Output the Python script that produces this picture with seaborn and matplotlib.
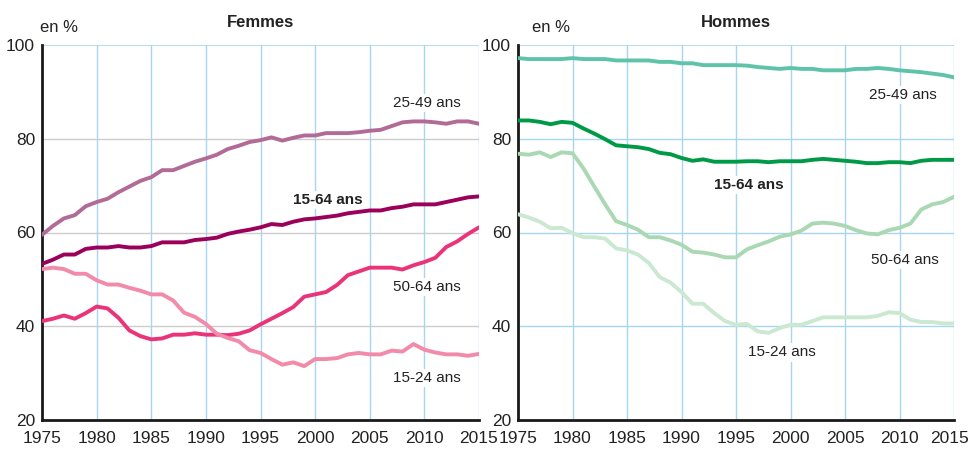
import pandas as pd
import numpy as np
import matplotlib
matplotlib.use('Agg')
import matplotlib.pyplot as plt
import matplotlib.transforms as mtransforms
import seaborn as sns

# data (taux d'activite, en %)
years = list(range(1975, 2016))

f_25_49 = [59.5, 61.4, 63.0, 63.7, 65.6, 66.5, 67.2, 68.6, 69.8, 71.0,
           71.8, 73.3, 73.3, 74.2, 75.1, 75.8, 76.6, 77.8, 78.5, 79.3,
           79.7, 80.3, 79.6, 80.2, 80.7, 80.7, 81.2, 81.2, 81.2, 81.4,
           81.7, 81.9, 82.7, 83.5, 83.7, 83.7, 83.5, 83.2, 83.7, 83.7, 83.2]
f_15_64 = [53.3, 54.2, 55.3, 55.3, 56.5, 56.8, 56.8, 57.1, 56.8, 56.8,
           57.1, 57.9, 57.9, 57.9, 58.4, 58.6, 58.9, 59.7, 60.2, 60.6,
           61.1, 61.8, 61.6, 62.3, 62.8, 63.0, 63.3, 63.6, 64.1, 64.4,
           64.7, 64.7, 65.2, 65.5, 66.0, 66.0, 66.0, 66.5, 67.0, 67.5, 67.7]
f_50_64 = [41.1, 41.6, 42.3, 41.6, 42.8, 44.2, 43.8, 41.8, 39.1, 37.9,
           37.2, 37.4, 38.2, 38.2, 38.5, 38.2, 38.2, 38.1, 38.4, 39.1,
           40.4, 41.6, 42.8, 44.1, 46.3, 46.8, 47.3, 48.8, 50.9, 51.7,
           52.5, 52.5, 52.5, 52.1, 53.0, 53.7, 54.6, 56.9, 58.1, 59.7, 61.1]
f_15_24 = [52.2, 52.5, 52.2, 51.2, 51.2, 49.8, 48.9, 48.9, 48.2, 47.6,
           46.8, 46.8, 45.5, 42.9, 42.0, 40.5, 38.4, 37.5, 36.8, 34.9,
           34.3, 33.0, 31.8, 32.3, 31.5, 33.0, 33.0, 33.2, 34.0, 34.3,
           34.0, 34.0, 34.8, 34.6, 36.2, 35.0, 34.4, 34.0, 34.0, 33.7, 34.1]

h_25_49 = [97.2, 97.0, 97.0, 97.0, 97.0, 97.2, 97.0, 97.0, 97.0, 96.7,
           96.7, 96.7, 96.7, 96.4, 96.4, 96.1, 96.1, 95.7, 95.7, 95.7,
           95.7, 95.6, 95.3, 95.1, 94.9, 95.1, 94.9, 94.9, 94.6, 94.6,
           94.6, 94.9, 94.9, 95.1, 94.9, 94.6, 94.4, 94.2, 93.9, 93.6, 93.1]
h_15_64 = [83.9, 83.9, 83.6, 83.1, 83.6, 83.4, 82.2, 81.1, 79.9, 78.6,
           78.4, 78.2, 77.8, 77.0, 76.7, 75.9, 75.3, 75.6, 75.1, 75.1,
           75.1, 75.2, 75.2, 75.0, 75.2, 75.2, 75.2, 75.5, 75.7, 75.5,
           75.3, 75.1, 74.8, 74.8, 75.0, 75.0, 74.8, 75.3, 75.5, 75.5, 75.5]
h_50_64 = [76.8, 76.6, 77.1, 76.1, 77.1, 76.9, 73.7, 69.8, 66.0, 62.4,
           61.6, 60.6, 59.0, 59.0, 58.3, 57.4, 55.9, 55.7, 55.3, 54.7,
           54.7, 56.4, 57.3, 58.1, 59.1, 59.6, 60.4, 61.9, 62.1, 61.9,
           61.4, 60.5, 59.8, 59.6, 60.5, 61.0, 61.9, 64.9, 66.0, 66.5, 67.6]
h_15_24 = [63.9, 63.2, 62.3, 60.9, 61.0, 59.9, 59.0, 59.0, 58.7, 56.6,
           56.2, 55.3, 53.5, 50.5, 49.3, 47.3, 44.8, 44.8, 42.8, 41.1,
           40.3, 40.5, 38.9, 38.6, 39.6, 40.3, 40.3, 41.1, 41.9, 41.9,
           41.9, 41.9, 41.9, 42.2, 43.0, 42.8, 41.4, 40.9, 40.9, 40.6, 40.6]

groups = ['25-49 ans', '15-64 ans', '50-64 ans', '15-24 ans']

rows = []
for sexe, series in [('Femmes', [f_25_49, f_15_64, f_50_64, f_15_24]),
                     ('Hommes', [h_25_49, h_15_64, h_50_64, h_15_24])]:
    for g, vals in zip(groups, series):
        for y, v in zip(years, vals):
            rows.append({'Sexe': sexe, 'Age': g, 'Annee': y, 'Taux': v})
df = pd.DataFrame(rows)

pal_f = {'25-49 ans': '#b26b97', '15-64 ans': '#9b005a',
         '50-64 ans': '#ea3479', '15-24 ans': '#f28aa9'}
pal_h = {'25-49 ans': '#5fc3aa', '15-64 ans': '#009a47',
         '50-64 ans': '#a9d8b3', '15-24 ans': '#cbe8d1'}

# label positions (year, value)
lab_f = {'25-49 ans': (2010.2, 87.7), '15-64 ans': (2001.2, 66.9),
         '50-64 ans': (2010.2, 48.4), '15-24 ans': (2010.2, 28.9)}
lab_h = {'25-49 ans': (2010.3, 89.4), '15-64 ans': (1996.2, 70.1),
         '50-64 ans': (2010.5, 54.1), '15-24 ans': (1999.2, 34.4)}

sns.set_style('white')
plt.rcParams['font.family'] = ['Liberation Sans', 'DejaVu Sans']

fig = plt.figure(figsize=(9.71, 4.57), dpi=100)
ax_f = fig.add_axes([42/971, 1-420/457, 437/971, 375/457])
ax_h = fig.add_axes([518/971, 1-420/457, 436/971, 375/457])

gridblue = '#a8d5ef'
for ax, sexe, pal, labs, hgrid, xoff in [
        (ax_f, 'Femmes', pal_f, lab_f, '#cccccc', 40),
        (ax_h, 'Hommes', pal_h, lab_h, gridblue, 532)]:
    d = df[df['Sexe'] == sexe]
    sns.lineplot(data=d, x='Annee', y='Taux', hue='Age', hue_order=groups,
                 palette=pal, linewidth=2.8, legend=False, ax=ax, zorder=3)
    ax.set_xlim(1975, 2015)
    ax.set_ylim(20, 100)
    ax.set_xticks(range(1975, 2016, 5))
    ax.set_yticks(range(20, 101, 20))
    ax.set_xlabel('')
    ax.set_ylabel('')
    ax.tick_params(axis='both', length=0, labelsize=12.5, colors='#222222', pad=5)
    ax.tick_params(axis='x', pad=8)
    for x in range(1980, 2016, 5):
        ax.axvline(x, color=gridblue, linewidth=1, zorder=1)
    for y in range(40, 100, 20):
        ax.axhline(y, color=hgrid, linewidth=1, zorder=1)
    ax.axhline(100, color=gridblue, linewidth=1.2, zorder=1)
    for s in ['top', 'right']:
        ax.spines[s].set_visible(False)
    for s in ['left', 'bottom']:
        ax.spines[s].set_color('#1a1a1a')
        ax.spines[s].set_linewidth(2)
    for g in groups:
        x, y = labs[g]
        ax.text(x, y, g, ha='center', va='center', fontsize=11,
                color='#222222', fontweight='bold' if g == '15-64 ans' else 'normal',
                bbox=dict(facecolor='white', edgecolor='none', pad=1.5), zorder=4)
    ax.set_title(sexe, fontsize=12, fontweight='bold', color='#222222', pad=13)
    fig.text(xoff/971, 1-27/457, 'en %', fontsize=12, color='#222222',
             ha='left', va='center')

# nudge the last year label of the right panel so it stays inside the figure
last = ax_h.get_xticklabels()[-1]
last.set_transform(last.get_transform() +
                   mtransforms.ScaledTranslation(-3/72, 0, fig.dpi_scale_trans))

fig.savefig('out.png', dpi=100)
